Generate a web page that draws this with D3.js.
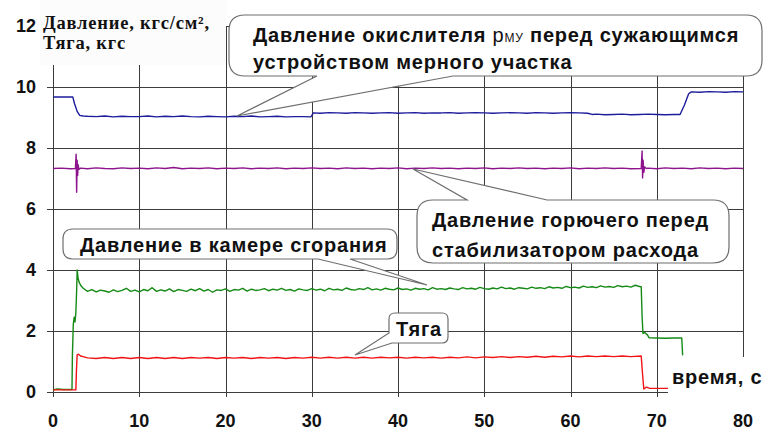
<!DOCTYPE html>
<html>
<head>
<meta charset="utf-8">
<script src="https://cdn.jsdelivr.net/npm/d3@7"></script>
<style>
  body { margin: 0; background: #fff; }
  svg { display: block; }
</style>
</head>
<body>
<div id="chart"></div>
<script>
// axis ticks
var xTicks = [0, 10, 20, 30, 40, 50, 60, 70, 80];
var yTicks = [0, 2, 4, 6, 8, 10, 12];

// [time, value]
var oxidizer = [
  [0, 9.67], [2.3, 9.67], [2.5, 9.45], [2.8, 9.2], [3.1, 9.07], [3.5, 9.05],
  [4, 9.04], [5, 9.03], [6, 9.05], [7, 9.02], [8, 9.04], [9, 9.03], [10, 9.03],
  [11, 9.05], [12, 9.02], [13, 9.04], [14, 9.03], [15, 9.05], [16, 9.03], [17, 9.02],
  [18, 9.04], [19, 9.03], [20, 9.02], [21, 9.04], [22, 9.03], [23, 9.05], [24, 9.02],
  [25, 9.03], [26, 9.04], [27, 9.02], [28, 9.03], [29, 9.03], [29.9, 9.02],
  [30.2, 9.15], [31, 9.14], [32, 9.16], [33, 9.15], [34, 9.14], [35, 9.16], [36, 9.15],
  [37, 9.14], [38, 9.15], [39, 9.16], [40, 9.14], [41, 9.15], [42, 9.16], [43, 9.14],
  [44, 9.15], [45, 9.15], [46, 9.16], [47, 9.14], [48, 9.15], [49, 9.16], [50, 9.15],
  [51, 9.14], [52, 9.15], [53, 9.16], [54, 9.15], [55, 9.14], [56, 9.16], [57, 9.15],
  [58, 9.14], [59, 9.15], [60, 9.16], [61, 9.15], [62, 9.14], [62.5, 9.10], [63, 9.11],
  [64, 9.09], [65, 9.10], [66, 9.11], [67, 9.09], [68, 9.10], [69, 9.11], [70, 9.10],
  [71, 9.09], [72, 9.10], [72.7, 9.10], [73.2, 9.4], [73.7, 9.78], [74, 9.84],
  [75, 9.83], [76, 9.85], [77, 9.84], [78, 9.83], [79, 9.85], [80, 9.84]
];

var fuel = [
  [0, 7.33], [1, 7.34], [2, 7.32], [2.6, 7.33], [2.68, 7.8], [2.74, 6.55], [2.8, 7.6],
  [2.86, 7.1], [2.92, 7.45], [3.0, 7.3], [3.2, 7.34], [4, 7.32], [5, 7.35], [6, 7.33],
  [7, 7.32], [8, 7.35], [9, 7.33], [10, 7.34], [11, 7.32], [12, 7.35], [13, 7.33],
  [14, 7.36], [15, 7.32], [16, 7.34], [17, 7.33], [18, 7.35], [19, 7.32], [20, 7.34],
  [21, 7.33], [22, 7.35], [23, 7.32], [24, 7.34], [25, 7.33], [26, 7.35], [27, 7.32],
  [28, 7.34], [29, 7.33], [30, 7.35], [31, 7.33], [32, 7.34], [33, 7.32], [34, 7.35],
  [35, 7.33], [36, 7.34], [37, 7.32], [38, 7.34], [39, 7.33], [40, 7.35], [41, 7.32],
  [42, 7.34], [43, 7.33], [44, 7.35], [45, 7.33], [46, 7.34], [47, 7.32], [48, 7.34],
  [49, 7.33], [50, 7.35], [51, 7.32], [52, 7.34], [53, 7.33], [54, 7.35], [55, 7.33],
  [56, 7.34], [57, 7.32], [58, 7.34], [59, 7.33], [60, 7.35], [61, 7.32], [62, 7.34],
  [63, 7.33], [64, 7.35], [65, 7.33], [66, 7.34], [67, 7.32], [68.2, 7.33], [68.3, 7.9],
  [68.36, 7.02], [68.42, 7.6], [68.5, 7.2], [68.6, 7.38], [68.8, 7.33], [69, 7.34],
  [70, 7.32], [71, 7.35], [72, 7.33], [73, 7.34], [74, 7.32], [75, 7.35], [76, 7.33],
  [77, 7.34], [78, 7.32], [79, 7.34], [80, 7.33]
];

var chamber = [
  [0, 0.07], [0.5, 0.1], [1.2, 0.08], [2.2, 0.08], [2.25, 1.2], [2.35, 2.2], [2.45, 2.45],
  [2.55, 2.3], [2.65, 2.6], [2.75, 3.4], [2.8, 4.0], [2.9, 3.75], [3.0, 3.62], [3.2, 3.5],
  [3.5, 3.4], [4, 3.30], [4.5, 3.36], [5, 3.28], [5.5, 3.34], [6, 3.31], [6.5, 3.27],
  [7, 3.35], [7.5, 3.29], [8, 3.33], [8.5, 3.40], [9, 3.30], [9.5, 3.34], [10, 3.28],
  [10.5, 3.36], [11, 3.32], [11.5, 3.42], [12, 3.30], [12.5, 3.35], [13, 3.31], [13.5, 3.38],
  [14, 3.29], [14.5, 3.36], [15, 3.33], [15.5, 3.30], [16, 3.37], [16.5, 3.32], [17, 3.39],
  [17.5, 3.31], [18, 3.36], [18.5, 3.27], [19, 3.35], [19.5, 3.33], [20, 3.38], [20.5, 3.30],
  [21, 3.36], [21.5, 3.34], [22, 3.40], [22.5, 3.31], [23, 3.37], [23.5, 3.33], [24, 3.35],
  [24.5, 3.39], [25, 3.32], [25.5, 3.37], [26, 3.34], [26.5, 3.40], [27, 3.33], [27.5, 3.36],
  [28, 3.31], [28.5, 3.38], [29, 3.35], [29.5, 3.33], [30, 3.39], [30.5, 3.34], [31, 3.37],
  [31.5, 3.32], [32, 3.40], [32.5, 3.35], [33, 3.37], [33.5, 3.33], [34, 3.41], [34.5, 3.36],
  [35, 3.34], [35.5, 3.39], [36, 3.36], [36.5, 3.42], [37, 3.35], [37.5, 3.38], [38, 3.34],
  [38.5, 3.40], [39, 3.37], [39.5, 3.35], [40, 3.41], [40.5, 3.36], [41, 3.38], [41.5, 3.34],
  [42, 3.40], [42.5, 3.37], [43, 3.39], [43.5, 3.35], [44, 3.42], [44.5, 3.37], [45, 3.39],
  [45.5, 3.36], [46, 3.41], [46.5, 3.38], [47, 3.36], [47.5, 3.42], [48, 3.38], [48.5, 3.40],
  [49, 3.37], [49.5, 3.43], [50, 3.39], [50.5, 3.37], [51, 3.41], [51.5, 3.38], [52, 3.44],
  [52.5, 3.39], [53, 3.41], [53.5, 3.37], [54, 3.42], [54.5, 3.40], [55, 3.38], [55.5, 3.44],
  [56, 3.40], [56.5, 3.42], [57, 3.39], [57.5, 3.45], [58, 3.41], [58.5, 3.43], [59, 3.40],
  [59.5, 3.46], [60, 3.42], [60.5, 3.44], [61, 3.41], [61.5, 3.47], [62, 3.43], [62.5, 3.45],
  [63, 3.42], [63.5, 3.48], [64, 3.44], [64.5, 3.46], [65, 3.43], [65.5, 3.49], [66, 3.45],
  [66.5, 3.47], [67, 3.44], [67.5, 3.50], [68, 3.46], [68.2, 3.45], [68.3, 2.5], [68.4, 1.92],
  [68.6, 1.95], [68.9, 1.88], [69.1, 1.78], [70, 1.77], [71, 1.76], [72, 1.77], [72.9, 1.77],
  [73, 1.2]
];

var thrust = [
  [0, 0.07], [2.65, 0.07], [2.72, 0.7], [2.8, 1.22], [2.95, 1.24], [3.2, 1.18], [3.6, 1.15],
  [4, 1.12], [5, 1.10], [6, 1.13], [7, 1.10], [8, 1.13], [9, 1.10], [10, 1.13], [11, 1.10],
  [12, 1.13], [13, 1.10], [14, 1.13], [15, 1.10], [16, 1.13], [17, 1.11], [18, 1.13],
  [19, 1.10], [20, 1.13], [21, 1.11], [22, 1.13], [23, 1.10], [24, 1.13], [25, 1.11],
  [26, 1.13], [27, 1.10], [28, 1.13], [29, 1.11], [30, 1.14], [31, 1.11], [32, 1.14],
  [33, 1.11], [34, 1.14], [35, 1.11], [36, 1.14], [37, 1.11], [38, 1.14], [39, 1.12],
  [40, 1.14], [41, 1.11], [42, 1.14], [43, 1.12], [44, 1.14], [45, 1.11], [46, 1.14],
  [47, 1.12], [48, 1.15], [49, 1.12], [50, 1.15], [51, 1.13], [52, 1.16], [53, 1.13],
  [54, 1.16], [55, 1.14], [56, 1.17], [57, 1.14], [58, 1.17], [59, 1.15], [60, 1.18],
  [61, 1.15], [62, 1.18], [63, 1.16], [64, 1.18], [65, 1.16], [66, 1.18], [67, 1.16],
  [68.2, 1.18], [68.35, 0.6], [68.5, 0.1], [68.8, 0.16], [69.2, 0.12], [70, 0.12],
  [71.4, 0.12]
];

var W = 764, H = 437;

var svg = d3.select("#chart")
  .append("svg")
  .attr("width", W)
  .attr("height", H);

var x = d3.scaleLinear().domain([0, 80]).range([53, 743]);
var y = d3.scaleLinear().domain([0, 12]).range([392, 26]);

function px(v) { return Math.round(v) + 0.5; }

// grid
svg.append("g").selectAll("line")
  .data(yTicks)
  .enter().append("line")
  .attr("x1", 47).attr("x2", x(80))
  .attr("y1", function(d) { return px(y(d)); })
  .attr("y2", function(d) { return px(y(d)); })
  .attr("stroke", "#3c3c3c").attr("stroke-width", 1);

svg.append("g").selectAll("line")
  .data(xTicks)
  .enter().append("line")
  .attr("y1", y(12)).attr("y2", 397)
  .attr("x1", function(d) { return px(x(d)); })
  .attr("x2", function(d) { return px(x(d)); })
  .attr("stroke", "#3c3c3c").attr("stroke-width", 1);

// series
var line = d3.line()
  .x(function(d) { return x(d[0]); })
  .y(function(d) { return y(d[1]); });

var series = [
  { data: oxidizer, color: "#1c1c9c" },
  { data: fuel, color: "#8e148e" },
  { data: chamber, color: "#168a16" },
  { data: thrust, color: "#f21414" }
];

series.forEach(function(s) {
  svg.append("path")
    .datum(s.data)
    .attr("d", line)
    .attr("fill", "none")
    .attr("stroke", s.color)
    .attr("stroke-width", 1.4)
    .attr("stroke-linejoin", "round");
});

// y title box
svg.append("rect")
  .attr("x", 40).attr("y", 0).attr("width", 186).attr("height", 65)
  .attr("fill", "#fcfcfc");

var yTitle = svg.append("text")
  .attr("font-family", "'Liberation Serif', 'DejaVu Serif', serif")
  .attr("font-weight", "bold")
  .attr("font-size", 18.5)
  .attr("letter-spacing", 0.8)
  .attr("fill", "#111");
yTitle.append("tspan").attr("x", 43).attr("y", 29).text("Давление, кгс/см\u00B2,");
yTitle.append("tspan").attr("x", 43).attr("y", 49).text("Тяга, кгс");

// callouts
function bubble(b) {
  var x0 = b.x, y0 = b.y, x1 = b.x + b.w, y1 = b.y + b.h, r = b.r;
  var p = d3.path();
  p.moveTo(x0 + r, y0);
  if (b.side === "top") {
    p.lineTo(b.b1, y0);
    p.lineTo(b.tip[0], b.tip[1]);
    p.lineTo(b.b2, y0);
  }
  p.lineTo(x1 - r, y0);
  p.quadraticCurveTo(x1, y0, x1, y0 + r);
  p.lineTo(x1, y1 - r);
  p.quadraticCurveTo(x1, y1, x1 - r, y1);
  if (b.side === "bottom") {
    p.lineTo(b.b2, y1);
    p.lineTo(b.tip[0], b.tip[1]);
    p.lineTo(b.b1, y1);
  }
  if (b.side === "corner") {
    p.lineTo(x0 + 3, y1);
    p.lineTo(b.tip[0], b.tip[1]);
    p.lineTo(x0, y1 - 10);
  } else {
    p.lineTo(x0 + r, y1);
    p.quadraticCurveTo(x0, y1, x0, y1 - r);
  }
  p.lineTo(x0, y0 + r);
  p.quadraticCurveTo(x0, y0, x0 + r, y0);
  p.closePath();
  return p.toString();
}

var callouts = [
  { x: 229, y: 15, w: 533, h: 61, r: 16, side: "bottom", b1: 317, b2: 453, tip: [237, 116] },
  { x: 417, y: 200, w: 312, h: 63, r: 16, side: "top", b1: 467, b2: 547, tip: [413, 169] },
  { x: 63, y: 229, w: 334, h: 30, r: 10, side: "bottom", b1: 318, b2: 350, tip: [427, 285] },
  { x: 389, y: 313, w: 59, h: 30, r: 6, side: "corner", tip: [355, 355] }
];

callouts.forEach(function(b) {
  svg.append("path")
    .attr("d", bubble(b))
    .attr("fill", "#fff")
    .attr("stroke", "#6e6e6e")
    .attr("stroke-width", 1.2);
});

function label(tx, ty) {
  return svg.append("text")
    .attr("x", tx).attr("y", ty)
    .attr("font-family", "'Liberation Sans', Arial, sans-serif")
    .attr("font-weight", "bold")
    .attr("font-size", 20)
    .attr("letter-spacing", 0.8)
    .attr("fill", "#111");
}

var l1 = label(253, 42);
l1.append("tspan").text("Давление окислителя ");
l1.append("tspan").attr("font-weight", "normal").text("р");
l1.append("tspan").attr("font-weight", "normal").attr("font-size", 12).text("МУ");
l1.append("tspan").text(" перед сужающимся");
label(253, 69).text("устройством мерного участка");

label(432, 227).text("Давление горючего перед");
label(432, 257).text("стабилизатором расхода");

label(80, 252).text("Давление в камере сгорания");

label(396, 336).text("Тяга");

// x title
svg.append("rect")
  .attr("x", 668).attr("y", 357).attr("width", 96).attr("height", 46)
  .attr("fill", "#fff");
label(672, 384).text("время, с");

// tick labels
svg.append("g").selectAll("text")
  .data(yTicks)
  .enter().append("text")
  .attr("x", 36)
  .attr("y", function(d) { return y(d); })
  .attr("dy", "0.36em")
  .attr("text-anchor", "end")
  .attr("font-family", "'Liberation Sans', Arial, sans-serif")
  .attr("font-weight", "bold")
  .attr("font-size", 18)
  .attr("fill", "#111")
  .text(function(d) { return d; });

svg.append("g").selectAll("text")
  .data(xTicks)
  .enter().append("text")
  .attr("x", function(d) { return x(d); })
  .attr("y", 427)
  .attr("text-anchor", "middle")
  .attr("font-family", "'Liberation Sans', Arial, sans-serif")
  .attr("font-weight", "bold")
  .attr("font-size", 18)
  .attr("fill", "#111")
  .text(function(d) { return d; });
</script>
</body>
</html>
